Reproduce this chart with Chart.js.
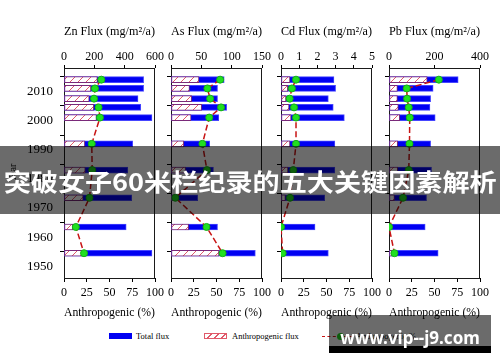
<!DOCTYPE html>
<html>
<head>
<meta charset="utf-8">
<script src="https://cdn.jsdelivr.net/npm/chart.js@4.4.1/dist/chart.umd.min.js"></script>
<style>
body { margin: 0; background: #fff; }
#wrap { position: relative; width: 500px; height: 362px; overflow: hidden; background: #fff; font-family: "Liberation Serif", "Times New Roman", serif; }
#wrap canvas { position: absolute; top: 0; }
.lg { position: absolute; font-size: 8.5px; line-height: 10px; color: #000; white-space: nowrap; }
#banner { position: absolute; left: 0; top: 146px; width: 500px; height: 68px; background: rgba(0,0,0,0.58);
  display: flex; align-items: center; justify-content: center; }
#banner span { color: #fff; font: 700 24px "Noto Sans CJK SC", sans-serif; white-space: nowrap; transform: scaleX(1.13); display: inline-block; }
#wm { position: absolute; left: 329px; top: 315px; width: 162px; height: 31px; background: rgba(0,0,0,0.58); }
#wmbar { position: absolute; left: 329px; top: 346px; width: 162px; height: 7px; background: #000; }
#wmtext { position: absolute; left: 329px; top: 326px; width: 162px; height: 22px; line-height: 22px; text-align: center;
  color: #fff; font: 700 17px "Noto Sans", sans-serif; white-space: nowrap; }
</style>
</head>
<body>
<div id="wrap">
  <div class="lg" style="left:109px;top:333px;width:23px;height:6px;background:#0000f2;"></div>
  <div class="lg" style="left:136px;top:331px;">Total flux</div>
  <div class="lg" style="left:204px;top:333px;width:21px;height:4px;border:1px solid #e05a6a;background:repeating-linear-gradient(135deg,#fff 0 4px,#e05a6a 4px 5px);"></div>
  <div class="lg" style="left:232px;top:331px;">Anthropogenic flux</div>
  <div class="lg" style="left:322px;top:336px;width:30px;height:0;border-top:1.5px dashed #c81414;"></div>
  <div class="lg" style="left:337px;top:333px;width:7px;height:7px;border-radius:50%;background:#20e020;"></div>
  <div class="lg" style="left:356px;top:331px;">Anthropogenic %</div>
  <div id="banner"><span>突破女子60米栏纪录的五大关键因素解析</span></div>
  <div id="wm"></div>
  <div id="wmbar"></div>
  <div id="wmtext">www.vip--j9.com</div>
</div>
<script>
// ปีของตัวอย่าง (แกน y)
var years = [2014, 2011, 2007.5, 2004.5, 2001, 1992, 1983, 1973.5, 1963.5, 1954.5];
var yearTicks = [1950, 1960, 1970, 1980, 1990, 2000, 2010];
var pctTicks = [0, 25, 50, 75, 100];

// Zn
var znTotal = [525, 525, 488, 506, 580, 453, 421, 447, 410, 580];
var znAnth = [220, 177, 166, 196, 214, 137, 140, 126, 57, 122];
var znPct = [41, 34, 33, 38, 39.5, 30.5, 31, 28, 13, 22];
// As
var asTotal = [87.7, 76.7, 76.7, 91.7, 78.8, 63.8, 70, 44, 76.7, 139];
var asAnth = [46, 30.5, 34, 50.5, 33, 21, 24, 3, 29, 79];
var asPct = [54, 40, 43, 55, 42, 34.5, 39.5, 4.8, 39, 56.7];
// Cd
var cdTotal = [2.91, 3.0, 2.6, 2.87, 3.48, 2.96, 2.96, 2.4, 1.87, 2.6];
var cdAnth = [0.49, 0.37, 0.27, 0.44, 0.55, 0.49, 0.38, 0.24, 0, 0.05];
var cdPct = [16.5, 12, 9.5, 14.3, 16.5, 16.5, 13.5, 9.9, 0, 1.8];
// Pb
var pbTotal = [304, 194, 183, 180, 203, 183, 187, 165, 159, 216];
var pbAnth = [168, 37, 37, 41, 47, 38, 38, 24, 0, 13];
var pbPct = [54.8, 19.5, 19.9, 21.7, 22.8, 22.5, 21.7, 15.4, 0, 6];

var titles = ['Zn Flux (mg/m²/a)', 'As Flux (mg/m²/a)', 'Cd Flux (mg/m²/a)', 'Pb Flux (mg/m²/a)'];
var fluxMax = [600, 150, 5, 400];
var fluxStep = [200, 50, 1, 200];

// ลายเส้นทแยงของแท่ง anthropogenic
var pc = document.createElement('canvas');
pc.width = 8; pc.height = 8;
var pctx = pc.getContext('2d');
pctx.fillStyle = '#fff';
pctx.fillRect(0, 0, 8, 8);
pctx.strokeStyle = '#e05a6a';
pctx.lineWidth = 1;
pctx.beginPath();
pctx.moveTo(0, 8); pctx.lineTo(8, 0);
pctx.moveTo(-1, 1); pctx.lineTo(1, -1);
pctx.moveTo(7, 9); pctx.lineTo(9, 7);
pctx.stroke();
var hatch = pctx.createPattern(pc, 'repeat');

var frame = {
    id: 'frame',
    beforeDatasetsDraw: function(chart) {
        var a = chart.chartArea, c = chart.ctx;
        c.save();
        c.strokeStyle = '#1a1a1a';
        c.lineWidth = 1;
        c.strokeRect(Math.round(a.left) + 0.5, Math.round(a.top) + 0.5,
            Math.round(a.right - a.left) - 1, Math.round(a.bottom - a.top));
        c.restore();
    }
};

function pts(vals) {
    return years.map(function(y, i) { return { x: vals[i], y: y }; });
}

function plain(v) { return String(v); }

var serif = 'Liberation Serif';

function makePanel(n, left, yw, total, anth, pct) {
    var cv = document.createElement('canvas');
    var w = yw + 91 + 14;
    cv.width = w;
    cv.height = 330;
    cv.style.left = (left - yw) + 'px';
    cv.style.width = w + 'px';
    cv.style.height = '330px';
    document.getElementById('wrap').insertBefore(cv, document.getElementById('banner'));
    var first = n === 0;

    return new Chart(cv.getContext('2d'), {
        type: 'bar',
        data: {
            datasets: [{
                type: 'line',
                label: 'Anthropogenic %',
                data: pts(pct),
                xAxisID: 'xp', yAxisID: 'y', indexAxis: 'y',
                order: 0,
                borderColor: '#c81414',
                borderWidth: 1.5,
                borderDash: [6, 3],
                pointRadius: 3.5,
                pointBackgroundColor: '#20e020',
                pointBorderColor: '#15b015',
                pointBorderWidth: 1,
                fill: false,
                tension: 0
            }, {
                label: 'Anthropogenic flux',
                data: pts(anth),
                xAxisID: 'xf', yAxisID: 'y',
                order: 1,
                backgroundColor: hatch,
                borderColor: '#7a2a7a',
                borderWidth: 1,
                borderSkipped: false,
                barThickness: 6,
                grouped: false
            }, {
                label: 'Total flux',
                data: pts(total),
                xAxisID: 'xf', yAxisID: 'y',
                order: 2,
                backgroundColor: '#0000f2',
                borderColor: '#4646ff',
                borderWidth: 1,
                borderSkipped: false,
                barThickness: 6,
                grouped: false
            }]
        },
        options: {
            indexAxis: 'y',
            responsive: false,
            animation: false,
            layout: { padding: { left: 0, right: 14, top: 0, bottom: 0 } },
            plugins: { legend: { display: false }, tooltip: { enabled: false } },
            scales: {
                y: {
                    type: 'linear', position: 'left', min: 1946, max: 2018, offset: false,
                    afterBuildTicks: function(s) { s.ticks = yearTicks.map(function(v) { return { value: v }; }); },
                    afterFit: function(s) { s.width = yw; s.paddingTop = 0; s.paddingBottom = 0; },
                    grid: { drawOnChartArea: false, drawTicks: true, tickLength: 4, color: '#000' },
                    border: { display: false },
                    ticks: { display: first, callback: plain, color: '#000', padding: 7, font: { family: serif, size: 13 } },
                    title: { display: first, text: 'Year', color: '#000', padding: { top: 7, bottom: 0 },
                        font: { family: serif, size: 10 } }
                },
                xf: {
                    type: 'linear', position: 'top', min: 0, max: fluxMax[n],
                    afterFit: function(s) { s.height = 68; s.paddingLeft = 0; s.paddingRight = 0; },
                    grid: { drawOnChartArea: false, drawTicks: true, tickLength: 3, color: '#000' },
                    border: { display: false },
                    ticks: { stepSize: fluxStep[n], callback: plain, color: '#000', padding: 1, maxRotation: 0,
                        font: { family: serif, size: 12 } },
                    title: { display: true, text: titles[n], color: '#000', padding: { top: 24, bottom: 0 },
                        font: { family: serif, size: 13 } }
                },
                xp: {
                    type: 'linear', position: 'bottom', min: 0, max: 100,
                    afterBuildTicks: function(s) { s.ticks = pctTicks.map(function(v) { return { value: v }; }); },
                    afterFit: function(s) { s.height = 52; s.paddingLeft = 0; s.paddingRight = 0; },
                    grid: { drawOnChartArea: false, drawTicks: true, tickLength: 4, color: '#000' },
                    border: { display: false },
                    ticks: { callback: plain, color: '#000', padding: 4, maxRotation: 0, font: { family: serif, size: 12 } },
                    title: { display: true, text: 'Anthropogenic (%)', color: '#000', padding: { top: 0, bottom: 10 },
                        font: { family: serif, size: 12 } }
                }
            }
        },
        plugins: [frame]
    });
}

makePanel(0, 64, 64, znTotal, znAnth, znPct);
makePanel(1, 171, 12, asTotal, asAnth, asPct);
makePanel(2, 281, 12, cdTotal, cdAnth, cdPct);
makePanel(3, 389, 12, pbTotal, pbAnth, pbPct);
</script>
</body>
</html>
